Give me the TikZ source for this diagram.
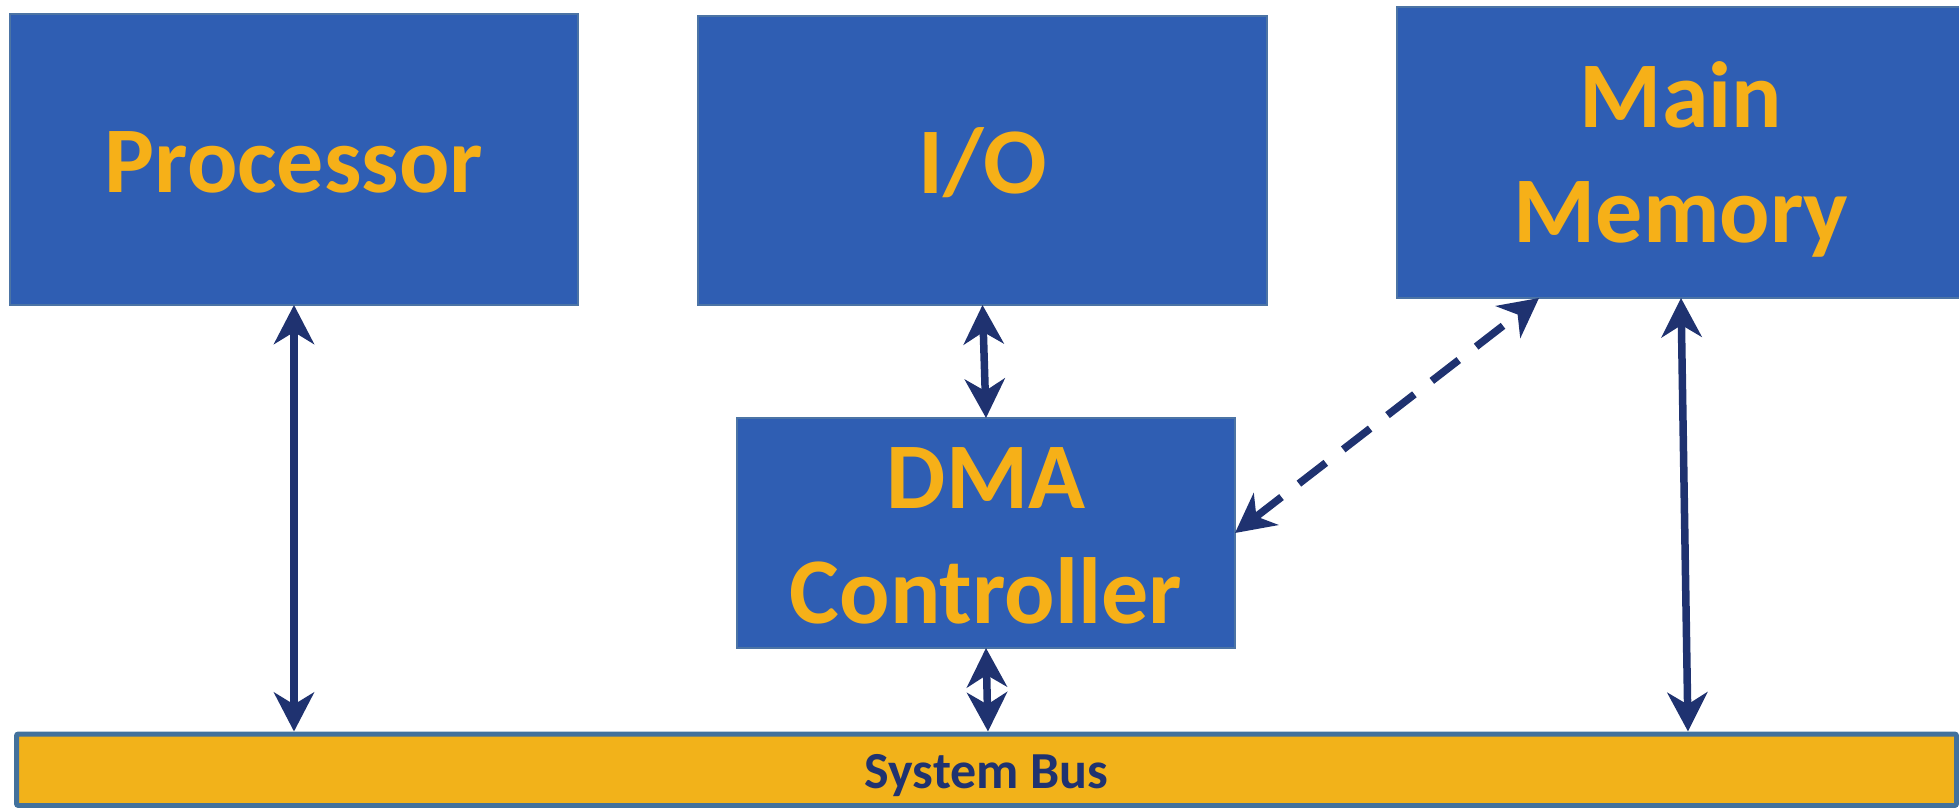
\documentclass[tikz,border=0pt]{standalone}
\usepackage{fontspec}
\setmainfont{Carlito}
\usetikzlibrary{arrows.meta,calc}
\definecolor{boxblue}{RGB}{47,94,179}
\definecolor{boxedge}{RGB}{76,116,165}
\definecolor{labelgold}{RGB}{246,176,24}
\definecolor{navy}{RGB}{31,50,112}
\definecolor{busgold}{RGB}{242,178,26}
\definecolor{busedge}{RGB}{66,113,156}

\begin{document}
\begin{tikzpicture}[x=0.5pt,y=-0.5pt,
  unitbox/.style={draw=boxedge, line width=1pt, fill=boxblue, inner sep=0pt, outer sep=0pt},
  boxtext/.style={text=labelgold, font=\fontsize{47}{57.5}\selectfont\bfseries, inner sep=0pt, anchor=base},
  bustext/.style={text=navy, font=\fontsize{26}{30}\selectfont\bfseries, inner sep=0pt, anchor=base},
  link/.style={draw=navy, line width=3.75pt, >={Stealth[length=19.5pt,width=20pt,inset=6pt]}, <->},
  dmalink/.style={link, dash pattern=on 17pt off 11pt}
]
\useasboundingbox (0,0) rectangle (1959,808);
\clip (0,0) rectangle (1959,808);

% functional units
\node[unitbox, minimum width=284pt,   minimum height=145.5pt] (proc) at (294,159.5) {};
\node[unitbox, minimum width=284.5pt, minimum height=144.5pt] (io)   at (982.5,160.5) {};
\node[unitbox, minimum width=284pt,   minimum height=145.5pt] (mem)  at (1681,152.5) {};
\node[unitbox, minimum width=249pt,   minimum height=115pt]   (dma)  at (986,533) {};

% system bus
\node[draw=busedge, line width=2.5pt, fill=busgold, rounded corners=1pt,
      minimum width=970pt, minimum height=35.75pt, inner sep=0pt, outer sep=1.25pt]
      (bus) at (986.5,769.75) {};

% labels
\node[boxtext] (proctext) at ([yshift=-16.25pt]proc.center) {Processor};
\node[boxtext] (iotext)   at ([yshift=-16.25pt]io.center) {I/O};
\node[boxtext] (memtop)   at ([yshift=12.75pt]mem.center) {Main};
\node[boxtext] (membot)   at ([yshift=-44.75pt]mem.center) {Memory};
\node[boxtext] (dmatop)   at ([yshift=12.5pt]dma.center) {DMA};
\node[boxtext] (dmabot)   at ([yshift=-45pt]dma.center) {Controller};
\node[bustext] (bustitle) at ([yshift=-9.6pt]bus.center) {System Bus};

% connections
\draw[link] (proc.south) -- (proc.south |- bus.north);
\draw[link] (io.south) -- (dma.north);
\draw[link] (dma.south) -- ([xshift=1pt]dma.south |- bus.north);
\draw[link] (mem.south) -- ([xshift=3.5pt]mem.south |- bus.north);
\draw[dmalink] (dma.east) -- ([xshift=71pt]mem.south west);
\end{tikzpicture}
\end{document}
